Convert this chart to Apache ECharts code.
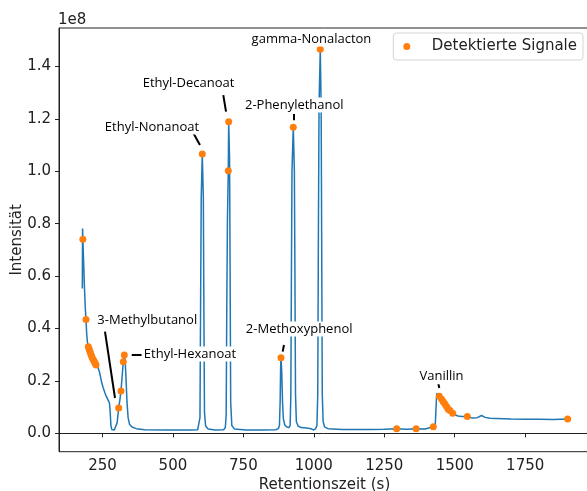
<!DOCTYPE html>
<html><head><meta charset="utf-8">
<script src="https://cdn.jsdelivr.net/npm/echarts@6/dist/echarts.min.js"></script>
<style>html,body{margin:0;padding:0;background:#fff}#c{width:587px;height:491px}</style>
</head><body><div id="c"></div><script>
// Chromatogram (intensity in units of 1e8)
const chromTime = [178.5,179.5,180.5,183,186,189,191.6,194,197,199.8,202.5,205,208,211,214,217.5,221,224,227.1,234,240,246,252,258,264,270,275,277.5,280,283,292,298,302,307.6,311.5,315.8,320,324,327.5,331,334,337,341,346,355,370,400,480,560,588,593,596,598,600.5,604.2,608,610,612,616,625,650,680,686,689,691,693.5,696.5,697.9,701,703,705,709,718,760,820,865,874,878,880.5,882.2,883.5,886,889,892,897,904,912,916,918.5,920.5,922.5,927.1,931,933,935,938,944,955,975,990,998,1006,1011,1014,1016,1018.5,1022.9,1026,1028,1030,1033,1038,1050,1100,1150,1200,1250,1294,1330,1363,1395,1424,1431,1436,1445.3,1453.6,1459.4,1465.3,1471.4,1477,1483,1492.7,1500,1512,1525,1544.6,1560,1580,1595,1608,1625,1650,1700,1750,1800,1850,1900.7];
const chromIntensity = [0.553,0.782,0.741,0.66,0.56,0.48,0.435,0.38,0.345,0.331,0.322,0.314,0.305,0.296,0.288,0.281,0.274,0.268,0.261,0.252,0.232,0.2,0.176,0.157,0.14,0.127,0.115,0.08,0.03,0.015,0.013,0.018,0.04,0.097,0.125,0.162,0.22,0.273,0.299,0.27,0.2,0.12,0.06,0.035,0.024,0.018,0.014,0.013,0.013,0.014,0.02,0.06,0.45,0.9,1.066,0.9,0.45,0.08,0.028,0.017,0.013,0.014,0.022,0.07,0.45,0.82,1.002,1.189,1.05,0.6,0.12,0.03,0.017,0.013,0.013,0.014,0.018,0.03,0.12,0.25,0.289,0.24,0.12,0.055,0.032,0.024,0.022,0.03,0.15,0.6,1.0,1.168,1.0,0.6,0.15,0.045,0.028,0.022,0.02,0.018,0.013,0.017,0.03,0.15,0.7,1.25,1.466,1.25,0.7,0.15,0.045,0.025,0.018,0.015,0.015,0.015,0.016,0.018,0.016,0.018,0.017,0.025,0.035,0.153,0.142,0.130,0.121,0.112,0.102,0.092,0.087,0.077,0.071,0.066,0.064,0.064,0.059,0.06,0.068,0.061,0.058,0.057,0.055,0.054,0.054,0.053,0.055];
// Detected signals
const peakTime = [180.5,191.6,199.8,202.5,205,208,211,214,217.5,221,224,227.1,307.6,315.8,324,327.5,604.2,696.5,697.9,883.5,927.1,1022.9,1294,1363,1424,1445.3,1453.6,1459.4,1465.3,1471.4,1477,1483,1492.7,1544.6,1900.7];
const peakIntensity = [0.741,0.435,0.331,0.322,0.314,0.305,0.296,0.288,0.281,0.274,0.268,0.261,0.097,0.162,0.273,0.299,1.066,1.002,1.189,0.289,1.168,1.466,0.018,0.018,0.025,0.142,0.130,0.121,0.112,0.102,0.092,0.087,0.077,0.064,0.055];
// Ticks
const xTicks = [250,500,750,1000,1250,1500,1750];
const yTicks = [0,0.2,0.4,0.6,0.8,1.0,1.2,1.4];
// Annotations
const annotNames = ['3-Methylbutanol','Ethyl-Hexanoat','Ethyl-Nonanoat','Ethyl-Decanoat','2-Phenylethanol','gamma-Nonalacton','2-Methoxyphenol','Vanillin'];

// annotation layout (data coordinates): text centre, leader line start / end
const annotTextPos = [[409,0.433],[560.6,0.303],[425.8,1.169],[555.3,1.337],[930.7,1.253],[991.7,1.505],[948,0.398],[1453,0.216]];
const annotLeader = [[[259,0.388],[294.5,0.135]],[[353.8,0.299],[389.3,0.299]],[[572.3,1.146],[596,1.1006]],[[678.8,1.291],[688.4,1.228]],[[927.2,1.219],[927.2,1.195]],null,[[894.1,0.337],[889.5,0.312]],[[1441.6,0.192],[1445.1,0.173]]];

const FONT = 'DejaVu Sans';
const TXT = '#222';
const chart = echarts.init(document.getElementById('c'), null, {renderer:'canvas'});
chart.setOption({
  animation: false,
  backgroundColor: '#fff',
  title: {text: '1e8', left: 53, top: 8, textStyle: {fontFamily: FONT, fontSize: 15, fontWeight: 'normal', color: TXT}},
  grid: {left: 59, right: -3, top: 28, bottom: 39.3, show: true, borderColor: TXT, borderWidth: 1, backgroundColor: 'transparent', containLabel: false, outerBoundsMode: 'none'},
  legend: {
    data: ['Detektierte Signale'], right: 4, top: 33, orient: 'horizontal',
    icon: 'circle', itemWidth: 24, itemHeight: 7,
    padding: [6, 6, 6, 10], backgroundColor: '#fff', borderColor: '#d5d5d5', borderWidth: 1, borderRadius: 3,
    textStyle: {fontFamily: FONT, fontSize: 15, color: TXT, padding: [0, 0, 0, 8]}
  },
  xAxis: {
    type: 'value', min: 95.8, max: 1980,
    name: 'Retentionszeit (s)', nameLocation: 'middle', nameGap: 26, nameMoveOverlap: false,
    nameTextStyle: {fontFamily: FONT, fontSize: 15, color: TXT},
    axisLine: {lineStyle: {color: TXT, width: 1}},
    axisTick: {show: true, length: 4, lineStyle: {color: TXT}, customValues: xTicks},
    axisLabel: {fontFamily: FONT, fontSize: 15, color: TXT, margin: 7, customValues: xTicks, formatter: v => String(v)},
    splitLine: {show: false}
  },
  yAxis: {
    type: 'value', min: -0.07, max: 1.547,
    name: 'Intensität', nameLocation: 'middle', nameGap: 34, nameMoveOverlap: false,
    nameTextStyle: {fontFamily: FONT, fontSize: 15, color: TXT},
    axisLine: {show: true, lineStyle: {color: TXT, width: 1}},
    axisTick: {show: true, length: 4, lineStyle: {color: TXT}, customValues: yTicks},
    axisLabel: {fontFamily: FONT, fontSize: 15, color: TXT, margin: 8, customValues: yTicks, formatter: v => v.toFixed(1)},
    splitLine: {show: false}
  },
  series: [
    {
      type: 'line', name: 'Chromatogramm', z: 2, showSymbol: false, symbol: 'none',
      data: chromTime.map((t, i) => [t, chromIntensity[i]]),
      lineStyle: {color: '#1f77b4', width: 1.5}, itemStyle: {color: '#1f77b4'}
    },
    {
      type: 'scatter', name: 'Detektierte Signale', z: 3, symbol: 'circle', symbolSize: 7,
      data: peakTime.map((t, i) => [t, peakIntensity[i]]),
      itemStyle: {color: '#ff7f0e', opacity: 1}
    },
    {
      type: 'lines', coordinateSystem: 'cartesian2d', z: 4, silent: true,
      data: annotLeader.filter(d => d).map(d => ({coords: d})),
      lineStyle: {color: '#000', width: 2, opacity: 1}
    },
    {
      type: 'scatter', name: 'annot', z: 5, silent: true, symbolSize: 2,
      data: annotNames.map((n, i) => ({name: n, value: annotTextPos[i]})),
      itemStyle: {color: 'rgba(255,255,255,0)'},
      label: {show: true, position: 'inside', formatter: '{b}', fontFamily: 'Open Sans', fontSize: 13, color: '#000', opacity: 1,
              backgroundColor: '#fff', padding: [1, 2]}
    }
  ]
});
</script></body></html>
